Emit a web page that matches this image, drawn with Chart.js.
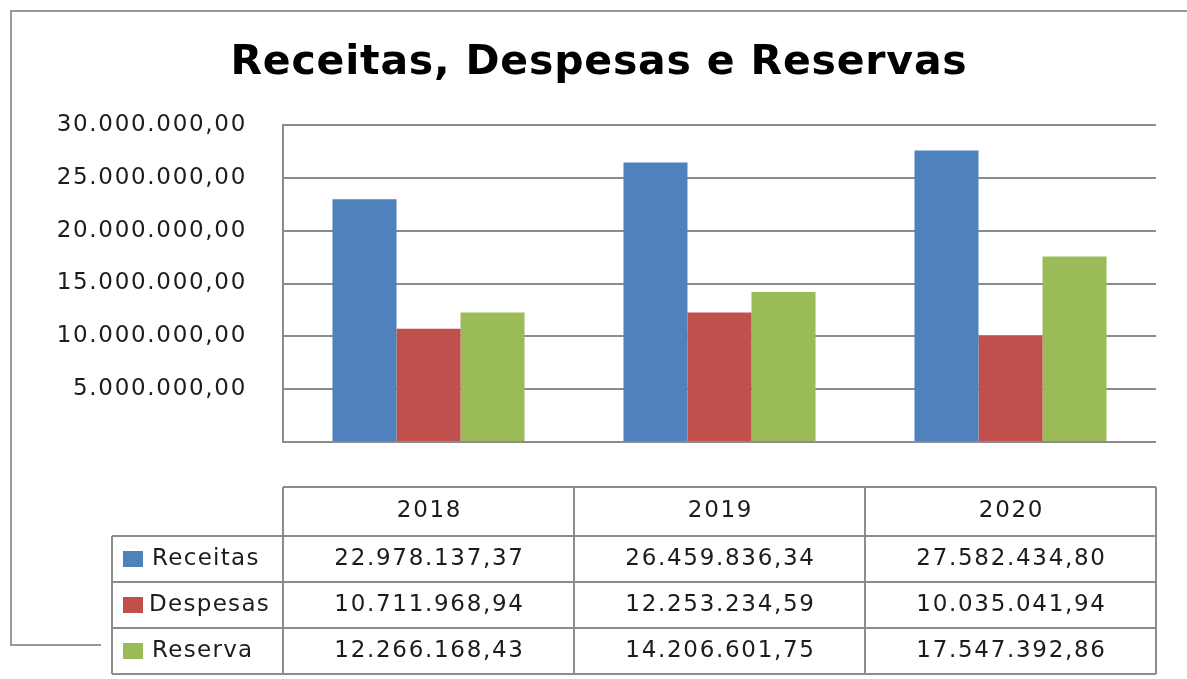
<!DOCTYPE html>
<html lang="pt">
<head>
<meta charset="UTF-8">
<title>Receitas, Despesas e Reservas</title>
<script src="https://cdn.jsdelivr.net/npm/chart.js"></script>
<style>
  html, body { margin: 0; padding: 0; background: #fff; }
  #wrap { width: 1187px; height: 679px; }
</style>
</head>
<body>
<div id="wrap"><canvas id="grafico" width="1187" height="679"></canvas></div>
<script>
// dados
const anos = ['2018', '2019', '2020'];
const receitas = [22978137.37, 26459836.34, 27582434.80];
const despesas = [10711968.94, 12253234.59, 10035041.94];
const reserva = [12266168.43, 14206601.75, 17547392.86];
const titulo = 'Receitas, Despesas e Reservas';

const fonte = '"DejaVu Sans", Verdana, sans-serif';
const corTexto = '#1c1c1c';
const corLinha = '#8c8c8c';
const espaco = '1.7px'; // o texto do original e mais largo

// formato brasileiro 1.234.567,89
function fmt(v) {
    const partes = v.toFixed(2).split('.');
    const inteiro = partes[0].replace(/\B(?=(\d{3})+(?!\d))/g, '.');
    return inteiro + ',' + partes[1];
}

// espacamento das letras para os ticks do eixo
const espacoPlugin = {
    id: 'espaco',
    beforeLayout(chart) { chart.ctx.letterSpacing = espaco; },
    beforeDraw(chart) { chart.ctx.letterSpacing = espaco; }
};

// moldura, titulo e tabela de dados
const tabelaPlugin = {
    id: 'tabela',
    afterDraw(chart) {
        const ctx = chart.ctx;
        const x = chart.scales.x;
        const area = chart.chartArea;
        ctx.save();

        // moldura externa
        ctx.strokeStyle = '#999';
        ctx.lineWidth = 2;
        ctx.beginPath();
        ctx.moveTo(1187, 11);
        ctx.lineTo(11, 11);
        ctx.lineTo(11, 645);
        ctx.lineTo(101, 645);
        ctx.stroke();

        // titulo
        ctx.letterSpacing = '0.8px';
        ctx.fillStyle = '#000';
        ctx.font = 'bold 41px ' + fonte;
        ctx.textAlign = 'center';
        ctx.textBaseline = 'middle';
        ctx.fillText(titulo, 599, 63);

        // tabela
        const n = anos.length;
        const larg = (area.right - area.left) / n;
        const bordas = [];
        for (let i = 0; i <= n; i++) bordas.push(area.left + larg * i);
        const linhas = [487, 536, 582, 628, 674];
        const esq = 112;

        ctx.strokeStyle = corLinha;
        ctx.lineWidth = 2;
        ctx.beginPath();
        ctx.moveTo(area.left, linhas[0]); ctx.lineTo(area.right, linhas[0]);
        for (let r = 1; r < linhas.length; r++) {
            ctx.moveTo(esq, linhas[r]); ctx.lineTo(area.right, linhas[r]);
        }
        ctx.moveTo(esq, linhas[1]); ctx.lineTo(esq, linhas[4]);
        bordas.forEach(b => { ctx.moveTo(b, linhas[0]); ctx.lineTo(b, linhas[4]); });
        ctx.stroke();

        ctx.letterSpacing = espaco;
        ctx.font = '23px ' + fonte;
        ctx.fillStyle = corTexto;
        ctx.textAlign = 'center';
        anos.forEach((a, i) => {
            ctx.fillText(a, x.getPixelForValue(i) + 1, (linhas[0] + linhas[1]) / 2);
        });

        chart.data.datasets.forEach((ds, r) => {
            const cy = (linhas[r + 1] + linhas[r + 2]) / 2;
            ctx.fillStyle = ds.backgroundColor;
            ctx.fillRect(123, cy - 8, 20, 16);
            ctx.fillStyle = corTexto;
            ctx.textAlign = 'left';
            ctx.letterSpacing = '1.3px';
            ctx.fillText(ds.label, r === 1 ? 149 : 152, cy);
            ctx.letterSpacing = espaco;
            ctx.textAlign = 'center';
            ds.data.forEach((v, i) => {
                ctx.fillText(fmt(v), x.getPixelForValue(i) + 1, cy);
            });
        });
        ctx.restore();
    }
};

const ctx = document.getElementById('grafico').getContext('2d');
const grafico = new Chart(ctx, {
    type: 'bar',
    data: {
        labels: anos,
        datasets: [
            { label: 'Receitas', data: receitas, backgroundColor: '#4f81bd' },
            { label: 'Despesas', data: despesas, backgroundColor: '#c0504d' },
            { label: 'Reserva', data: reserva, backgroundColor: '#9bbb59' }
        ]
    },
    options: {
        responsive: false,
        animation: false,
        layout: { padding: { top: 125, right: 31, bottom: 237, left: 0 } },
        datasets: { bar: { categoryPercentage: 0.66, barPercentage: 1.0 } },
        plugins: {
            legend: { display: false },
            title: { display: false },
            tooltip: { enabled: false }
        },
        scales: {
            x: {
                display: false
            },
            y: {
                min: 0,
                max: 30000000,
                afterFit(scale) { scale.width = 283; },
                ticks: {
                    stepSize: 5000000,
                    padding: 36,
                    color: corTexto,
                    font: { family: fonte, size: 23 },
                    callback: v => (v === 0 ? '' : fmt(v))
                },
                grid: { color: corLinha, lineWidth: 2, drawTicks: false },
                border: { display: true, color: corLinha, width: 2 }
            }
        }
    },
    plugins: [espacoPlugin, tabelaPlugin]
});
</script>
</body>
</html>
